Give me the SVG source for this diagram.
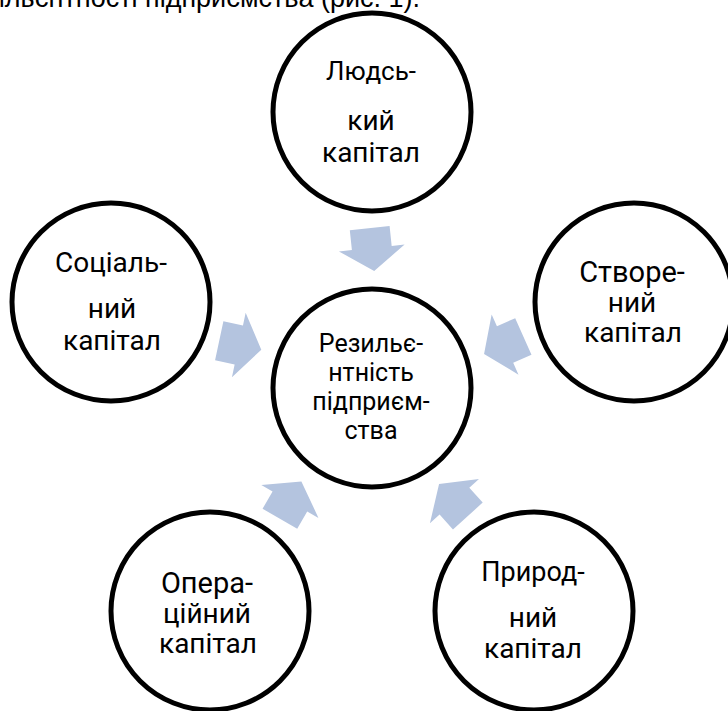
<svg xmlns="http://www.w3.org/2000/svg" width="728" height="711" viewBox="0 0 728 711">
  <style>
    .node circle { fill: #ffffff; stroke: #000000; stroke-width: 5; }
    .lbl { font-family: Roboto, "Liberation Sans", sans-serif; fill: #000000; text-anchor: middle; }
    .big { font-size: 28px; }
    .mid { font-size: 25px; }
    .head { font-family: "Liberation Sans", Arial, sans-serif; font-size: 27px; fill: #000000; text-anchor: end; }
    .arrow { fill: #B4C4DF; }
  </style>
  <defs>
    <polygon id="arr" points="352,228 392,228 392,248 405,248 372,271 339,248 352,248" transform="rotate(-6 372 250)"/>
  </defs>
  <rect x="0" y="0" width="728" height="711" fill="#ffffff"/>
  <text class="head" x="420" y="7">резильєнтності підприємства (рис. 1).</text>

  <g id="connectors" class="arrow">
    <use href="#arr"/>
    <use href="#arr" transform="rotate(72 372 388)"/>
    <use href="#arr" transform="rotate(144 372 388)"/>
    <use href="#arr" transform="rotate(216 372 388)"/>
    <use href="#arr" transform="rotate(288 372 388)"/>
  </g>

  <g id="node-human" class="node">
    <circle cx="372" cy="112" r="99"/>
    <text class="lbl" x="371" y="80" font-size="26">Людсь-</text>
    <text class="lbl big" x="371" y="130">кий</text>
    <text class="lbl big" x="371" y="162">капітал</text>
  </g>

  <g id="node-created" class="node">
    <circle cx="634" cy="302" r="99"/>
    <text class="lbl" x="632" y="282" font-size="29">Створе-</text>
    <text class="lbl big" x="632" y="312">ний</text>
    <text class="lbl big" x="633" y="342">капітал</text>
  </g>

  <g id="node-natural" class="node">
    <circle cx="534" cy="611" r="99"/>
    <text class="lbl" x="533" y="581" font-size="27">Природ-</text>
    <text class="lbl big" x="533" y="627">ний</text>
    <text class="lbl big" x="533" y="658">капітал</text>
  </g>

  <g id="node-operational" class="node">
    <circle cx="210" cy="611" r="99"/>
    <text class="lbl" x="207" y="593" font-size="29">Опера-</text>
    <text class="lbl big" x="207" y="623">ційний</text>
    <text class="lbl big" x="208" y="653">капітал</text>
  </g>

  <g id="node-social" class="node">
    <circle cx="111" cy="302" r="99"/>
    <text class="lbl" x="111" y="272" font-size="28">Соціаль-</text>
    <text class="lbl big" x="112" y="318">ний</text>
    <text class="lbl big" x="112" y="350">капітал</text>
  </g>

  <g id="node-center" class="node">
    <circle cx="372" cy="388" r="99"/>
    <text class="lbl mid" x="371" y="352">Резильє-</text>
    <text class="lbl mid" x="371" y="381">нтність</text>
    <text class="lbl mid" x="371" y="410">підприєм-</text>
    <text class="lbl mid" x="371" y="439">ства</text>
  </g>
</svg>
